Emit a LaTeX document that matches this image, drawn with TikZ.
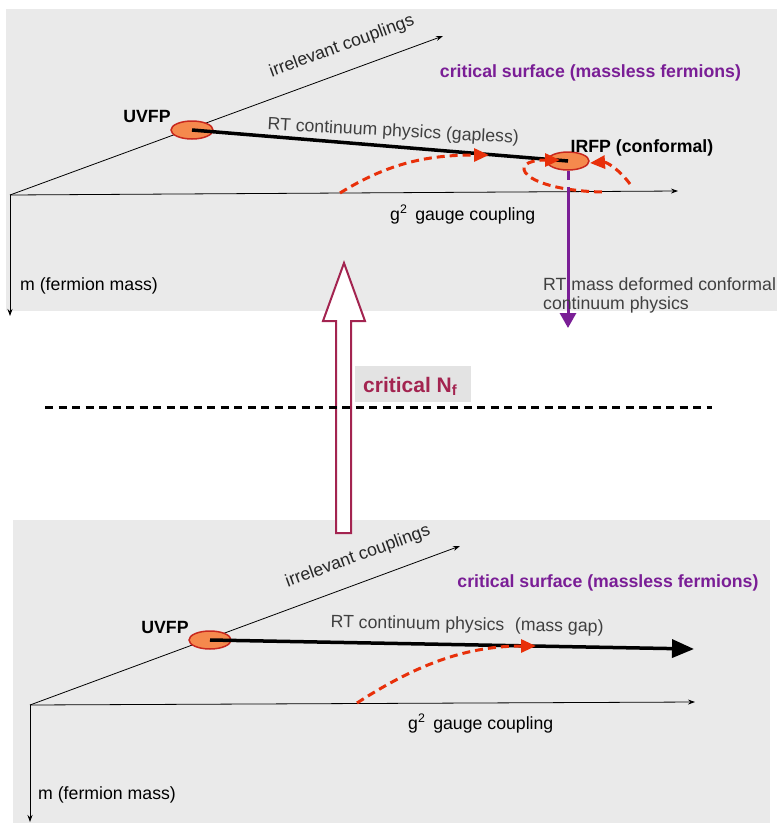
\documentclass[tikz,border=0pt]{standalone}
\usepackage{fontspec}
\setmainfont{Liberation Sans}
\usetikzlibrary{shapes.geometric,arrows.meta}
\definecolor{panelgray}{HTML}{EAEAEA}
\definecolor{fporange}{HTML}{F5894D}
\definecolor{fpred}{HTML}{C8281E}
\definecolor{flowred}{HTML}{E8300A}
\definecolor{critpurple}{HTML}{7A1E96}
\definecolor{nfmaroon}{HTML}{A32450}
\definecolor{rtgray}{HTML}{404040}
\tikzset{
  fixpt/.style={ellipse,draw=fpred,fill=fporange,line width=1.5pt,minimum width=42pt,minimum height=18pt,inner sep=0pt},
  axis/.style={line width=0.8pt,-{Stealth[length=7pt,width=5pt]}},
  flow/.style={flowred,line width=3pt,dash pattern=on 8pt off 5pt,-{Triangle[length=15pt,width=13pt]}},
  lbl/.style={anchor=base,inner sep=0pt},
}
\begin{document}
\begin{tikzpicture}
                    [x=1pt,y=-1pt,font=\fontsize{17.7}{21}\selectfont]
                    \useasboundingbox (0,0) rectangle (777,823);

                    % Panels
                    \fill [panelgray] (6,9) rectangle (777,311);
                    \fill [panelgray] (13,520) rectangle (770,823);

                    % Critical N_f
                    \draw [nfmaroon, line width=2pt, fill=white] (336,533) -- (336,321) -- (323,321) -- (344,263) -- (365,321) -- (351,321) -- (351,533) -- cycle;
                    \draw [line width=3pt, dash pattern=on 8pt off 5.5pt] (45,407) -- (712,407);
                    \fill [panelgray!97!black] (355,366) rectangle (471,402);
                    \node (nf) [lbl, anchor=base west, text=nfmaroon, font=\fontsize{21}{24}\selectfont\bfseries] at (363,392) {critical N\textsubscript{f}};

                    % Top panel: axes
                    \coordinate (O1) at (10,195); \coordinate (g1) at (678,191); \coordinate (m1) at (10,316); \coordinate (k1) at (443,36);
                    \draw [axis] (O1) -- (g1);
                    \draw [axis] (O1) -- (m1);
                    \draw [axis] (O1) -- (k1);
                    \node (irr1) [lbl, rotate=20, text=black!85] at (343.5,51) {irrelevant couplings};
                    \node (gg1) [lbl, anchor=base west] at (390,220) {g\textsuperscript{2}\, gauge coupling};
                    \node (mm1) [lbl, anchor=base west] at (20,290) {m (fermion mass)};
                    \node (cs1) [lbl, text=critpurple, font=\fontsize{17.7}{21}\selectfont\bfseries] at (590.5,77) {critical surface (massless fermions)};

                    % Top panel: fixed points
                    \node (uv1) [fixpt] at (192,130) {};
                    \node (ir) [fixpt] at (568,161) {};
                    \node [lbl, font=\fontsize{17.7}{21}\selectfont\bfseries] at (147,122) {UVFP};
                    \node [lbl, font=\fontsize{17.7}{21}\selectfont\bfseries] at (642,152) {IRFP (conformal)};
                    \draw [line width=3.5pt] (uv1.center) -- (ir.center);
                    \node [lbl, rotate=-3, text=rtgray] at (393,136.5) {RT continuum physics (gapless)};

                    % Flows
                    \draw [flow] (340,193) .. controls (390,162) and (430,155) .. (489,155);
                    \draw [flow] (602,192) .. controls (520,190) and (505,160) .. (560,160);
                    \draw [flow] (630,184) .. controls (618,168) and (606,162) .. (590,163);

                    % Mass deformation
                    \draw [critpurple, line width=3pt] (ir.south) -- ++(0,9);
                    \coordinate (md) at (568,328);
                    \draw [critpurple, line width=3pt, -{Triangle[length=15pt,width=16pt]}] (568,187) -- (md);
                    \node [lbl, anchor=base west, text=rtgray] at (543,290) {RT mass deformed conformal};
                    \node [lbl, anchor=base west, text=rtgray] at (543,309) {continuum physics};

                    % Bottom panel: axes
                    \coordinate (O2) at (30,705); \coordinate (g2) at (695,702); \coordinate (m2) at (30,822); \coordinate (k2) at (460,546);
                    \draw [axis] (O2) -- (g2);
                    \draw [axis] (O2) -- (m2);
                    \draw [axis] (O2) -- (k2);
                    \node (irr2) [lbl, rotate=20, text=black!85] at (359.5,561) {irrelevant couplings};
                    \node (gg2) [lbl, anchor=base west] at (408,729) {g\textsuperscript{2}\, gauge coupling};
                    \node (mm2) [lbl, anchor=base west] at (38,799) {m (fermion mass)};
                    \node (cs2) [lbl, text=critpurple, font=\fontsize{17.7}{21}\selectfont\bfseries] at (608,587) {critical surface (massless fermions)};

                    % Bottom panel: fixed point and flow
                    \node (uv2) [fixpt] at (210,640) {};
                    \node [lbl, font=\fontsize{17.7}{21}\selectfont\bfseries] at (165,633) {UVFP};
                    \coordinate (gap) at (694,649);
                    \draw [line width=3.5pt, -{Triangle[length=22pt,width=18pt]}] (uv2.center) -- (gap);
                    \node [lbl, rotate=-1, text=rtgray] at (467,630) {RT continuum physics\hspace{0.6em}(mass gap)};
                    \draw [flow] (357,703) .. controls (420,662) and (470,646) .. (536,646);
                \end{tikzpicture}
\end{document}
